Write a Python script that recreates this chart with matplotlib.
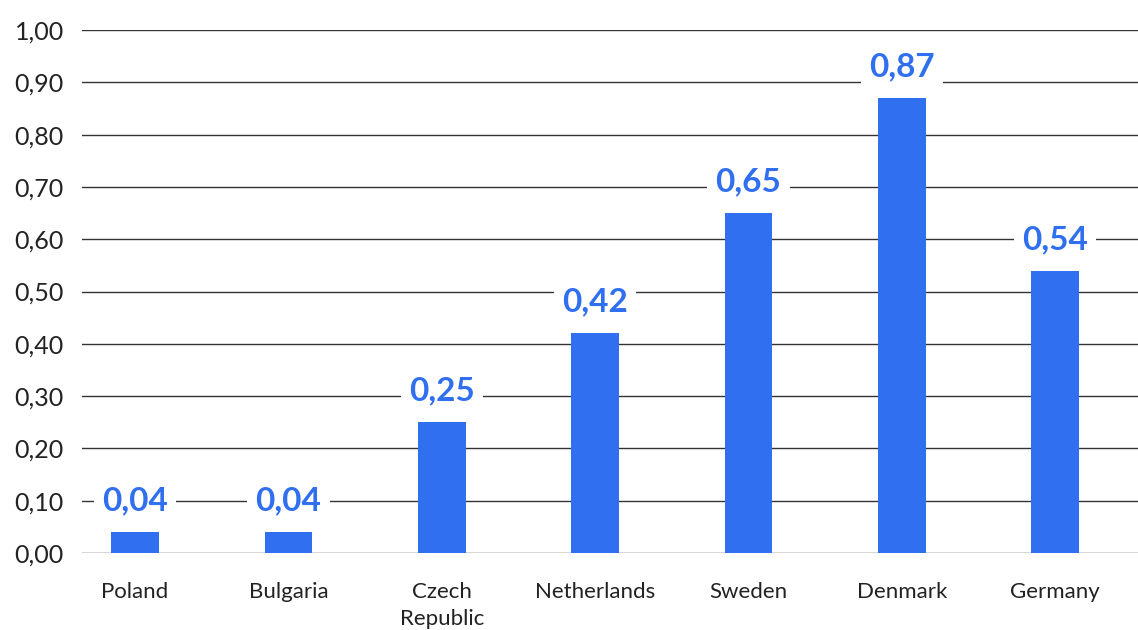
import matplotlib
matplotlib.use("Agg")
import matplotlib.pyplot as plt

categories = ["Poland", "Bulgaria", "Czech\nRepublic", "Netherlands", "Sweden", "Denmark", "Germany"]
values = [0.04, 0.04, 0.25, 0.42, 0.65, 0.87, 0.54]
yticks = [0.0, 0.1, 0.2, 0.3, 0.4, 0.5, 0.6, 0.7, 0.8, 0.9, 1.0]

plt.rcParams['font.family'] = ['Lato', 'DejaVu Sans']
blue = "#2F6FF0"

fig = plt.figure(figsize=(11.38, 6.30), dpi=100)
ax = fig.add_axes([82/1138, 1-553/630, 1-82/1138, (553-30)/630])

x = list(range(len(categories)))
ax.bar(x, values, width=0.31, color=blue, zorder=3)

ax.set_ylim(0, 1.0)
ax.set_xlim(-0.346, 6.54)
ax.set_yticks(yticks)
ax.set_yticklabels([f"{v:.2f}".replace(".", ",") for v in yticks], fontsize=18, color="#222222")
ax.set_xticks(x)
ax.set_xticklabels(categories, fontsize=16, color="#222222", linespacing=1.45)
ax.tick_params(axis='both', length=0)
ax.tick_params(axis='y', pad=13)
ax.tick_params(axis='x', pad=21)
ax.yaxis.grid(True, color="#333333", linewidth=1.0, zorder=0)
ax.set_axisbelow(True)
for s in ax.spines.values():
    s.set_visible(False)

for xi, v in zip(x, values):
    ax.annotate(f"{v:.2f}".replace(".", ","), xy=(xi, v), xytext=(0, 12),
                textcoords="offset points", ha="center", va="bottom",
                fontsize=24, fontweight="bold", color=blue, zorder=5,
                bbox=dict(boxstyle="square,pad=0.25", fc="white", ec="none"))

fig.savefig("out.png", dpi=100)
